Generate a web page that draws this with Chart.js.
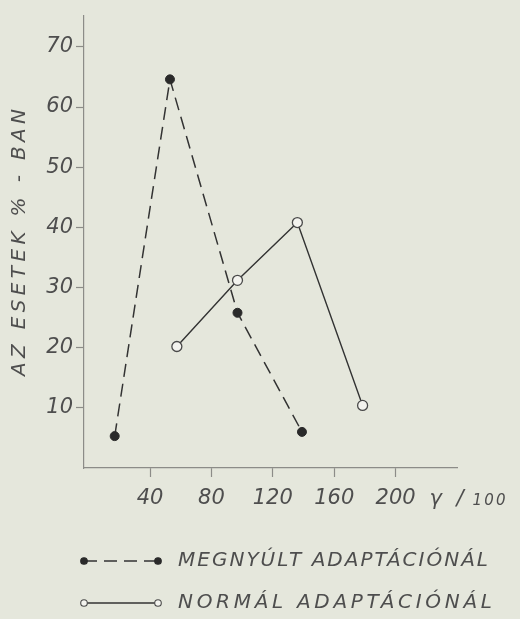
<!DOCTYPE html>
<html>
<head>
<meta charset="utf-8">
<script src="https://cdn.jsdelivr.net/npm/chart.js@4.4.1/dist/chart.umd.min.js"></script>
<style>
  html, body { margin: 0; padding: 0; background: #e5e7dc; }
  #wrap { width: 520px; height: 619px; }
</style>
</head>
<body>
<div id="wrap"><canvas id="myChart" width="520" height="619"></canvas></div>
<script>
// values
const megnyultX = [17, 53, 97, 139];
const megnyultY = [5.3, 64.6, 25.8, 6];
const normalX = [57.5, 97, 136, 178.5];
const normalY = [20.2, 31.2, 40.8, 10.4];
const xTicks = [40, 80, 120, 160, 200];
const yTicks = [10, 20, 30, 40, 50, 60, 70];
const seriesLabels = ['MEGNYÚLT ADAPTÁCIÓNÁL', 'NORMÁL ADAPTÁCIÓNÁL'];
const yTitle = 'AZ ESETEK % - BAN';
const xUnit = 'γ / 100';

const ink = '#333333';
const grey = '#4e4e4e';
const font = '"DejaVu Sans", "Liberation Sans", sans-serif';

const toPoints = (xs, ys) => xs.map((x, i) => ({ x: x, y: ys[i] }));

// fits a text to a given width by spreading its letters
const spreadText = (ctx, text, x, y, width) => {
  ctx.letterSpacing = '0px';
  const w = ctx.measureText(text).width;
  const extra = Math.max(0, (width - w) / (text.length - 1));
  ctx.letterSpacing = extra + 'px';
  ctx.fillText(text, x, y);
  ctx.letterSpacing = '0px';
}

const extrasPlugin = {
  id: 'extras',
  afterDraw(chart) {
    const ctx = chart.ctx;
    const xs = chart.scales.x;
    ctx.save();
    ctx.fillStyle = grey;
    ctx.textBaseline = 'middle';

    // y title, rotated
    ctx.save();
    ctx.translate(20, 243);
    ctx.rotate(-Math.PI / 2);
    ctx.font = 'italic 200 20px ' + font;
    ctx.textAlign = 'left';
    spreadText(ctx, yTitle, -133, 0, 267);
    ctx.restore();

    // unit after the last x label: big gamma, small number
    const cut = xUnit.lastIndexOf(' ');
    const ux = xs.getPixelForValue(200) + 34;
    ctx.textAlign = 'left';
    ctx.font = 'italic 200 21px ' + font;
    spreadText(ctx, xUnit.slice(0, cut), ux, 500, 34);
    ctx.font = 'italic 200 15px ' + font;
    spreadText(ctx, xUnit.slice(cut + 1), ux + 43, 501, 33);

    // legend: line with a marker at both ends
    const rows = [561, 603];
    chart.data.datasets.forEach((ds, i) => {
      const y = rows[i];
      const x0 = 84, x1 = 158;
      ctx.strokeStyle = ds.borderColor;
      ctx.lineWidth = 1.4;
      ctx.setLineDash(ds.borderDash || []);
      ctx.beginPath();
      ctx.moveTo(x0, y);
      ctx.lineTo(x1, y);
      ctx.stroke();
      ctx.setLineDash([]);
      [x0, x1].forEach(px => {
        ctx.beginPath();
        ctx.arc(px, y, 3.3, 0, Math.PI * 2);
        ctx.fillStyle = ds.pointBackgroundColor;
        ctx.fill();
        ctx.strokeStyle = ds.pointBorderColor;
        ctx.lineWidth = 1.1;
        ctx.stroke();
      });
      ctx.fillStyle = grey;
      ctx.font = 'italic 200 20px ' + font;
      spreadText(ctx, ds.label, 178, y, i === 0 ? 310 : 314);
    });
    ctx.restore();
  }
};

new Chart(document.getElementById('myChart').getContext('2d'), {
  type: 'line',
  data: {
    datasets: [
      {
        label: seriesLabels[0],
        data: toPoints(megnyultX, megnyultY),
        borderColor: ink,
        borderWidth: 1.5,
        borderDash: [13, 7],
        pointRadius: 4.5,
        pointBackgroundColor: '#2a2a2a',
        pointBorderColor: '#2a2a2a',
        pointBorderWidth: 1,
        tension: 0
      },
      {
        label: seriesLabels[1],
        data: toPoints(normalX, normalY),
        borderColor: ink,
        borderWidth: 1.4,
        pointRadius: 5,
        pointBackgroundColor: '#f3f3ee',
        pointBorderColor: '#4a4a4a',
        pointBorderWidth: 1.3,
        tension: 0
      }
    ]
  },
  options: {
    responsive: false,
    animation: false,
    layout: { padding: { top: 13, right: 63, left: 0, bottom: 0 } },
    plugins: { legend: { display: false }, tooltip: { enabled: false } },
    scales: {
      x: {
        type: 'linear',
        min: -3,
        max: 240,
        afterBuildTicks: s => { s.ticks = xTicks.map(v => ({ value: v })); },
        afterFit: s => { s.height = 151; },
        border: { color: '#8c8c88', width: 1.2 },
        grid: { drawOnChartArea: false, tickLength: 9, color: '#8c8c88', tickWidth: 1.2 },
        ticks: {
          color: grey,
          padding: 9,
          maxRotation: 0,
          font: { family: font, size: 21, style: 'italic', weight: '200' }
        }
      },
      y: {
        min: 0,
        max: 75.2,
        afterBuildTicks: s => { s.ticks = yTicks.map(v => ({ value: v })); },
        afterFit: s => { s.width = 84; },
        border: { color: '#8c8c88', width: 1.2 },
        grid: { drawOnChartArea: false, tickLength: 8, color: '#8c8c88', tickWidth: 1.2 },
        ticks: {
          color: grey,
          padding: 3,
          font: { family: font, size: 21, style: 'italic', weight: '200' }
        }
      }
    }
  },
  plugins: [extrasPlugin]
});
</script>
</body>
</html>
